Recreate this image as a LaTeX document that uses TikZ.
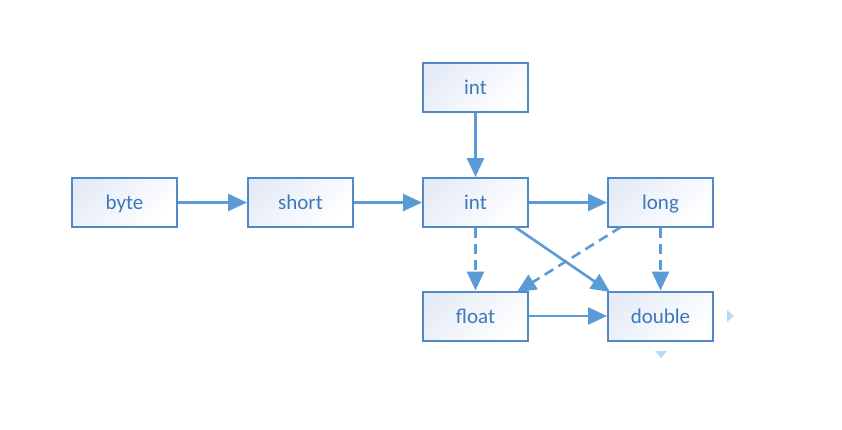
\documentclass[tikz,border=0pt]{standalone}
\usepackage{fontspec}
\setmainfont{Carlito}
\usetikzlibrary{arrows.meta}
\definecolor{boxedge}{HTML}{5089C6}
\definecolor{boxtint}{HTML}{E6ECF7}
\definecolor{linkblue}{HTML}{5B9BD5}
\definecolor{labelblue}{HTML}{3D78B9}
\definecolor{hintblue}{HTML}{B3DCF2}
\tikzset{
  typebox/.style={draw=boxedge, line width=2pt, minimum width=105pt, minimum height=49pt,
    inner sep=0pt, top color=boxtint, bottom color=white, shading angle=45,
    text=labelblue, font=\fontsize{21}{24}\selectfont,
    text height=16pt, text depth=2pt},
  link/.style={draw=linkblue, line width=2.6pt,
    -{Triangle[length=19pt,width=17pt]}},
  dashlink/.style={link, dash pattern=on 10pt off 6pt},
  hint/.style={fill=hintblue, draw=none}
}
\begin{document}
\begin{tikzpicture}[x=1pt,y=-1pt]
  \useasboundingbox (0,0) rectangle (842,429);
  \fill[white] (0,0) rectangle (842,429);

  % type boxes
  \node[typebox] (byte)   at (124.5,202.5) {byte};
  \node[typebox] (short)  at (300.5,202.5) {short};
  \node[typebox] (chr)    at (475.5,87.5)  {int};
  \node[typebox] (int)    at (475.5,202.5) {int};
  \node[typebox] (long)   at (660.5,202.5) {long};
  \node[typebox] (float)  at (475.5,316)   {float};
  \node[typebox] (double) at (660.5,316)   {double};

  % lossless widenings
  \draw[link] (byte) -- (short);
  \draw[link] (short) -- (int);
  \draw[link] (chr) -- (int);
  \draw[link] (int) -- (long);
  \draw[link] (float) -- (double);
  \coordinate (intfoot) at (515,227);
  \coordinate (doublehead) at (610,292);
  \draw[link] (intfoot) -- (doublehead);

  % widenings that may lose precision
  \draw[dashlink] (int) -- (float);
  \draw[dashlink] (long) -- (double);
  \coordinate (longfoot) at (621,227);
  \coordinate (floathead) at (517,292);
  \draw[dashlink] (longfoot) -- (floathead);

  % small resize markers
  \path[hint] (727,310) -- (734,316) -- (727,322) -- cycle;
  \path[hint] (655,351) -- (667,351) -- (661,358) -- cycle;
\end{tikzpicture}
\end{document}
